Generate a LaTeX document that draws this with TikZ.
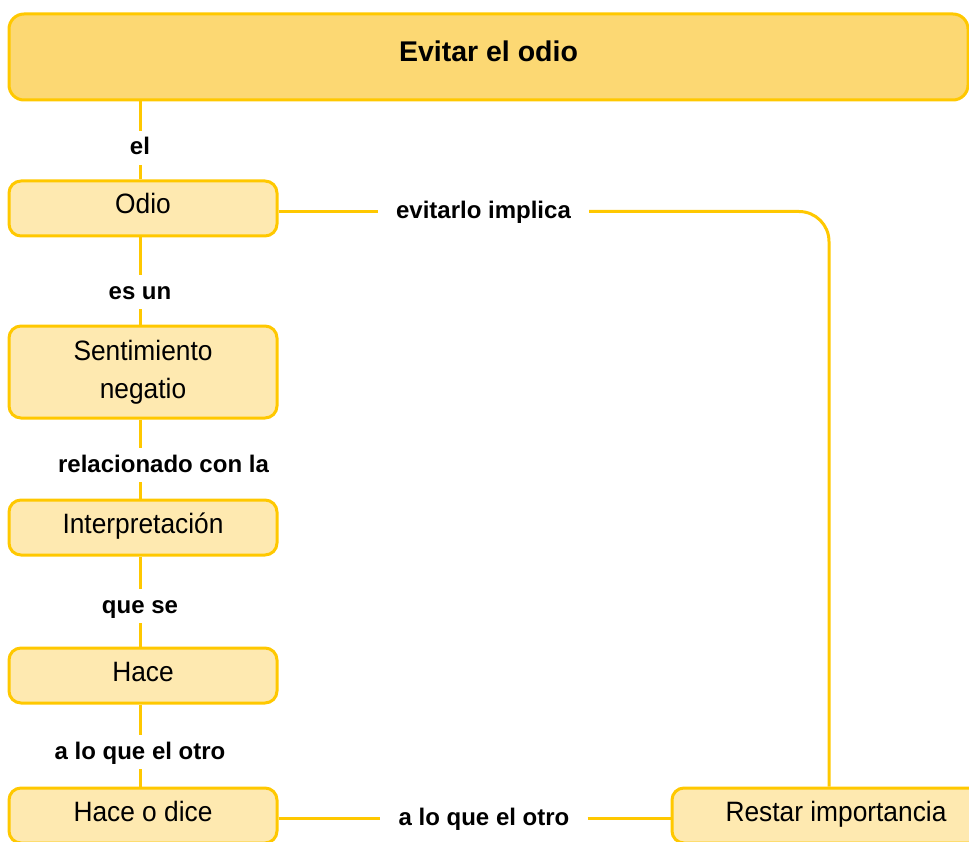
\documentclass[tikz,border=0pt]{standalone}
\usepackage{fontspec}
\setmainfont{Liberation Sans}
\newfontfamily\condfont{Liberation Sans}[FakeStretch=0.94]
\usetikzlibrary{calc}
\definecolor{bordc}{HTML}{FFC800}
\definecolor{topfill}{HTML}{FCD873}
\definecolor{boxfill}{HTML}{FEE9B0}
\begin{document}
\begin{tikzpicture}[x=1pt,y=-1pt,
  conn/.style={draw=bordc,line width=3pt},
  topbox/.style={draw=bordc,fill=topfill,line width=3pt,rounded corners=15pt,inner sep=0pt,
    font=\bfseries\fontsize{28.5}{34}\selectfont,text height=20pt,text depth=10pt},
  cbox/.style={draw=bordc,fill=boxfill,line width=3pt,rounded corners=12pt,inner sep=0pt,
    minimum width=268pt,minimum height=55pt,font=\condfont\fontsize{28}{38}\selectfont,
    text height=20pt,text depth=9pt},
  cboxm/.style={draw=bordc,fill=boxfill,line width=3pt,rounded corners=12pt,inner sep=0pt,
    minimum width=268pt,minimum height=92pt,font=\condfont\fontsize{28}{38}\selectfont,align=center},
  lbl/.style={font=\bfseries\fontsize{24}{28}\selectfont,text height=19pt,text depth=5pt,
    inner xsep=18pt,inner ysep=5pt}
]
\useasboundingbox (0,0) rectangle (969,842);
\clip (0,0) rectangle (969,842);

% boxes
\node[topbox,minimum width=959pt,minimum height=86pt] (top) at (488.5,57) {Evitar el odio};
\node[cbox] (odio) at (143,208.5) {Odio};
\node[cboxm] (sent) at (143,372) {Sentimiento\\negatio};
\node[cbox] (interp) at (143,527.5) {Interpretación};
\node[cbox] (hace) at (143,675.5) {Hace};
\node[cbox] (hod) at (143,815.5) {Hace o dice};
\node[cbox,minimum width=328pt] (restar) at (836,815.5) {Restar importancia};

% labels
\node[lbl] (l1) at (140,148) {el};
\node[lbl] (l2) at (140,292) {es un};
\node[lbl] (l3) at (163.5,465) {relacionado con la};
\node[lbl] (l4) at (140,606) {que se};
\node[lbl] (l5) at (140,752) {a lo que el otro};
\node[lbl] (l6) at (483.5,211.5) {evitarlo implica};
\node[lbl] (l7) at (484,818) {a lo que el otro};
\coordinate (bend) at (829,211.5);

% connectors
\draw[conn] ([xshift=-3pt]odio.north |- top.south) -- (l1) -- ([xshift=-3pt]odio.north);
\draw[conn] ([xshift=-3pt]odio.south) -- (l2) -- ([xshift=-3pt]sent.north);
\draw[conn] ([xshift=-3pt]sent.south) -- ([xshift=-3pt]sent.south |- l3.north);
\draw[conn] ([xshift=-3pt]interp.north |- l3.south) -- ([xshift=-3pt]interp.north);
\draw[conn] ([xshift=-3pt]interp.south) -- (l4) -- ([xshift=-3pt]hace.north);
\draw[conn] ([xshift=-3pt]hace.south) -- (l5) -- ([xshift=-3pt]hod.north);
\draw[conn] (odio.east |- l6) -- (l6);
\draw[conn,rounded corners=30pt] (l6) -- (bend) -- (bend |- restar.north);
\draw[conn] (hod.east |- l7) -- (l7) -- (restar.west |- l7);
\end{tikzpicture}
\end{document}
